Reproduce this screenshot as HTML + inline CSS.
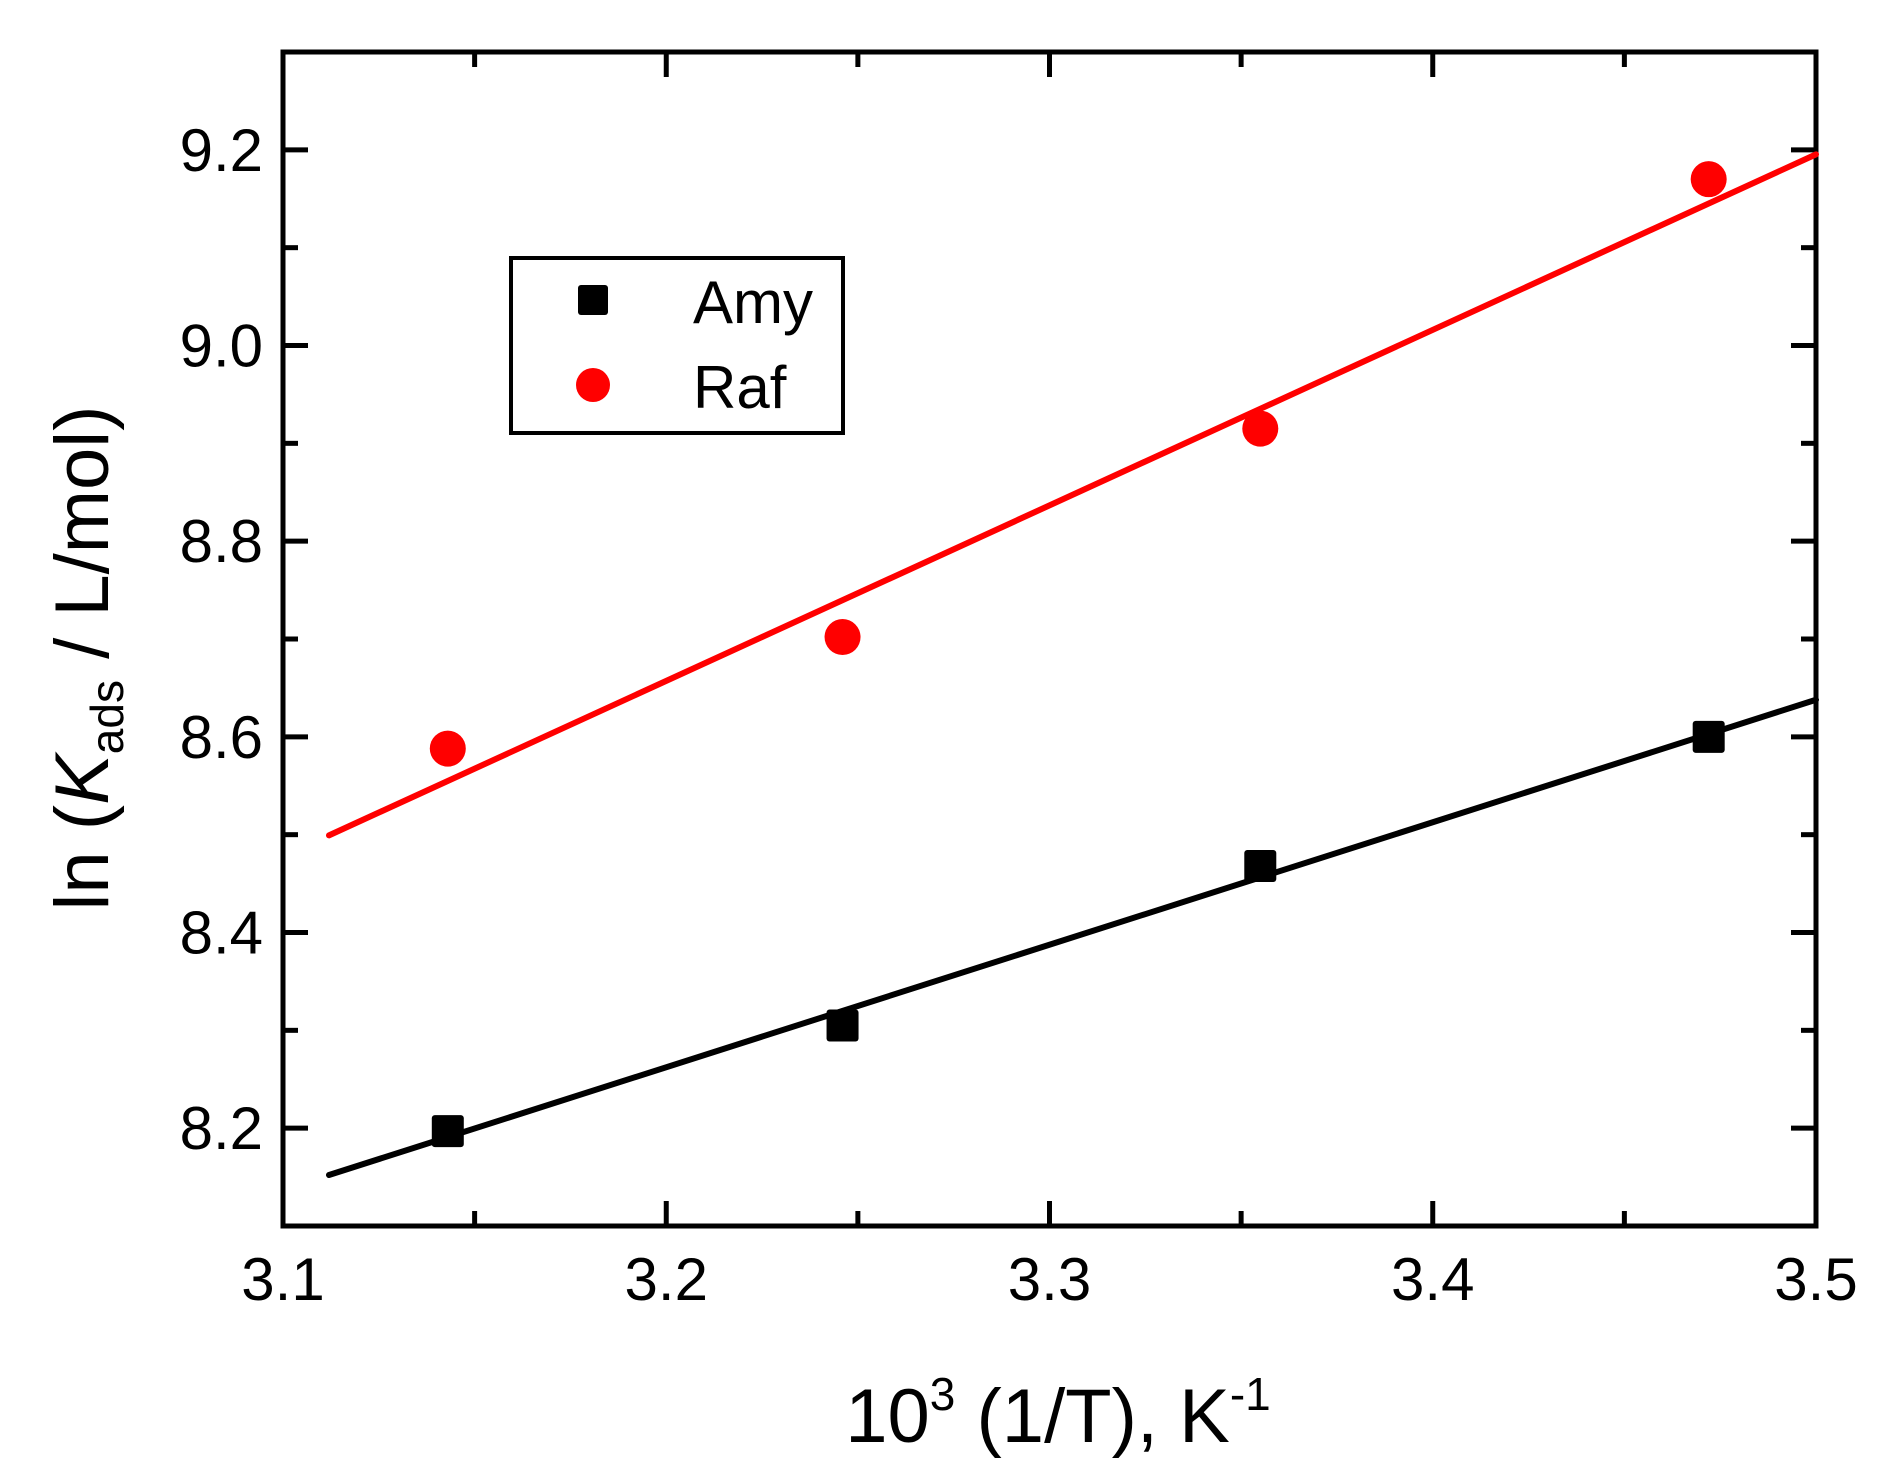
<!DOCTYPE html>
<html><head><meta charset="utf-8"><style>
html,body{margin:0;padding:0;background:#fff;}
svg{display:block;font-family:"Liberation Sans",Arial,sans-serif;}
</style></head><body>
<svg id="chart" width="1893" height="1484" viewBox="0 0 1893 1484">
<g id="axes"></g>
<g id="series"></g>
<g>
<rect x="511" y="258" width="332" height="175" fill="#fff" stroke="#000" stroke-width="4"/>
<rect x="578" y="285" width="30" height="30" rx="3" fill="#000"/>
<text x="693" y="323" font-size="60">Amy</text>
<circle cx="593" cy="385" r="17" fill="#f00"/>
<text x="693" y="408" font-size="60">Raf</text>
</g>
<text x="1058" y="1442" font-size="76" text-anchor="middle">10<tspan font-size="46" dy="-32">3</tspan><tspan dy="32"> (1/T), K</tspan><tspan font-size="46" dy="-32">-1</tspan></text>
<text transform="translate(108,658) rotate(-90)" font-size="76" text-anchor="middle">ln (<tspan font-style="italic">K</tspan><tspan font-size="46" dy="15">ads</tspan><tspan dy="-15"> / L/mol)</tspan></text>
</svg>
<script>
const xTicks = [3.1, 3.2, 3.3, 3.4, 3.5];
const yTicks = [8.2, 8.4, 8.6, 8.8, 9.0, 9.2];
const xTickLabels = ["3.1","3.2","3.3","3.4","3.5"];
const yTickLabels = ["8.2","8.4","8.6","8.8","9.0","9.2"];
const xValues = [3.143, 3.246, 3.355, 3.472];
const amyValues = [8.197, 8.305, 8.468, 8.600];
const rafValues = [8.588, 8.702, 8.915, 9.170];
const fitXStart = 3.112, fitXEnd = 3.5;

const L=283,R=1816,T=52,B=1226, X0=3.1,X1=3.5,Y0=8.1,Y1=9.3;
const sx=v=>L+(v-X0)/(X1-X0)*(R-L);
const sy=v=>B-(v-Y0)/(Y1-Y0)*(B-T);
const NS="http://www.w3.org/2000/svg";
function mk(tag,attrs,parent){const e=document.createElementNS(NS,tag);for(const k in attrs)e.setAttribute(k,attrs[k]);parent.appendChild(e);return e;}
const axes=document.getElementById('axes'), series=document.getElementById('series');

for(let i=0;i<xTicks.length;i++){
  const x=sx(xTicks[i]);
  const t=mk('line',{x1:x,x2:x,y1:B,y2:B-25,stroke:'#000','stroke-width':5},axes);
  
  
  const t2=mk('line',{x1:x,x2:x,y1:T,y2:T+25,stroke:'#000','stroke-width':5},axes);
  
  
  const lb=mk('text',{x:x,y:1300,'font-size':60,'text-anchor':'middle'},axes);
  lb.textContent=xTickLabels[i];
  
  
  if(i<xTicks.length-1){
    const mx=sx((xTicks[i]+xTicks[i+1])/2);
    const m=mk('line',{x1:mx,x2:mx,y1:B,y2:B-15,stroke:'#000','stroke-width':5},axes);
    
    
    const m2=mk('line',{x1:mx,x2:mx,y1:T,y2:T+15,stroke:'#000','stroke-width':5},axes);
    
    
  }
}
const yMinor=[8.1].concat(yTicks.map(v=>v+0.1));
for(let i=0;i<yTicks.length;i++){
  const y=sy(yTicks[i]);
  const t=mk('line',{x1:L,x2:L+25,y1:y,y2:y,stroke:'#000','stroke-width':5},axes);
  
  
  const t2=mk('line',{x1:R,x2:R-25,y1:y,y2:y,stroke:'#000','stroke-width':5},axes);
  
  
  const lb=mk('text',{x:263,y:y+21,'font-size':60,'text-anchor':'end'},axes);
  lb.textContent=yTickLabels[i];
  
  
}
yMinor.forEach(v=>{
  if(v<=Y0+0.001||v>=Y1-0.001)return;
  const y=sy(v);
  const m=mk('line',{x1:L,x2:L+15,y1:y,y2:y,stroke:'#000','stroke-width':5},axes);
  
  
  const m2=mk('line',{x1:R,x2:R-15,y1:y,y2:y,stroke:'#000','stroke-width':5},axes);
  
  
});
const frame=mk('rect',{x:L,y:T,width:R-L,height:B-T,fill:'none',stroke:'#000','stroke-width':5},axes);



function fit(xs,ys){const n=xs.length;const mx=xs.reduce((a,b)=>a+b)/n,my=ys.reduce((a,b)=>a+b)/n;let num=0,den=0;for(let i=0;i<n;i++){num+=(xs[i]-mx)*(ys[i]-my);den+=(xs[i]-mx)**2;}const s=num/den;return [s,my-s*mx];}
function drawFit(ys,color,name){
  const [s,b]=fit(xValues,ys);
  const ln=mk('line',{x1:sx(fitXStart),y1:sy(s*fitXStart+b),x2:sx(fitXEnd),y2:sy(s*fitXEnd+b),stroke:color,'stroke-width':6,'stroke-linecap':'round'},series);
  
  
}
drawFit(amyValues,'#000','fit-line-amy');
drawFit(rafValues,'#f00','fit-line-raf');
for(let i=0;i<xValues.length;i++){
  const p=mk('rect',{x:sx(xValues[i])-16,y:sy(amyValues[i])-16,width:32,height:32,rx:3,fill:'#000'},series);
  
  
  const c=mk('circle',{cx:sx(xValues[i]),cy:sy(rafValues[i]),r:18,fill:'#f00'},series);
  
  
}
</script>
</body></html>
